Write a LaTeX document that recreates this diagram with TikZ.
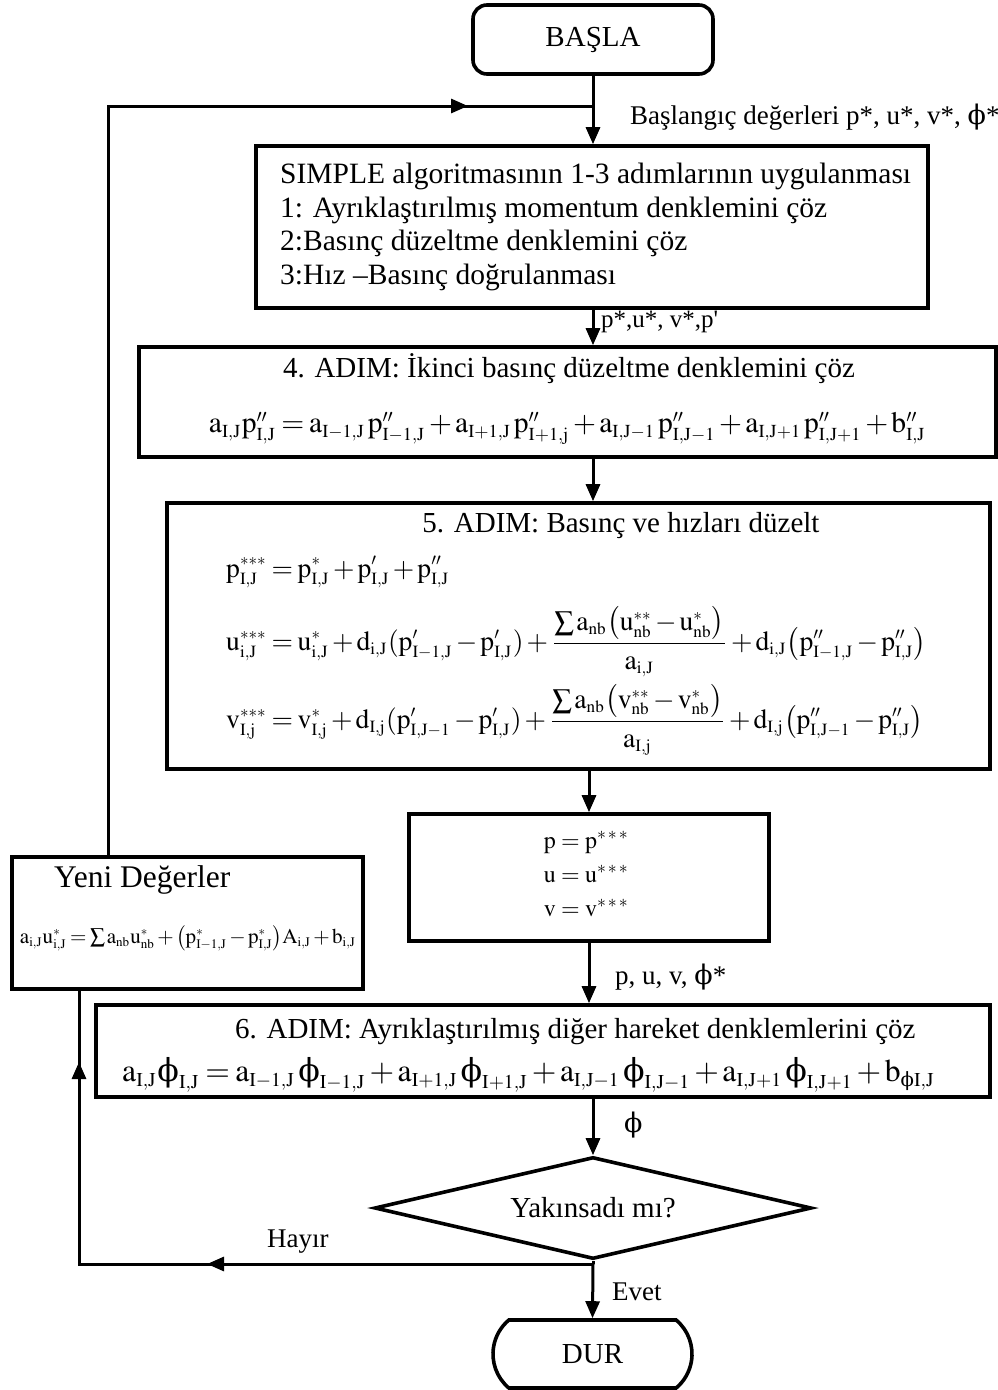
\documentclass[tikz,border=0pt]{standalone}
\usepackage{graphicx}
\usepackage{amsmath}
\usepackage{mathptmx}
\usepackage{fontspec}
\setmainfont{Liberation Serif}
\newfontfamily\phifont{DejaVu Serif}
\usetikzlibrary{arrows.meta,shapes.geometric,shapes.misc}
\DeclareMathSizes{10}{10}{6.2}{5}
\newcommand\myphi{\text{\phifont ϕ}}
\newcommand\tightmath{\medmuskip=2mu\thickmuskip=3mu\thinmuskip=1.5mu}
\newsavebox\eqU
\newsavebox\eqV
\newsavebox\eqP
\begin{document}
\begin{tikzpicture}[x=1pt,y=-1pt,
  box/.style={draw, line width=3.6pt, inner sep=0pt},
  conn/.style={line width=3pt},
  arr/.style={line width=3pt, -{Triangle[length=17pt,width=14pt]}},
  tA/.style={font=\fontsize{29}{34}\selectfont, inner sep=0pt},
  tB/.style={font=\fontsize{27}{32}\selectfont, inner sep=0pt},
  eqn/.style={inner sep=0pt}
]
\sbox\eqU{$\displaystyle\tightmath\mathrm{u^{***}_{i,J} = u^{*}_{i,J} + d_{i,J}(p'_{I-1,J} - p'_{I,J}) + \frac{\sum a_{nb}\bigl(u^{**}_{nb} - u^{*}_{nb}\bigr)}{a_{i,J}} + d_{i,J}\bigl(p''_{I-1,J} - p''_{I,J}\bigr)}$}
\sbox\eqV{$\displaystyle\tightmath\mathrm{v^{***}_{I,j} = v^{*}_{I,j} + d_{I,j}(p'_{I,J-1} - p'_{I,J}) + \frac{\sum a_{nb}\bigl(v^{**}_{nb} - v^{*}_{nb}\bigr)}{a_{I,j}} + d_{I,j}\bigl(p''_{I,J-1} - p''_{I,J}\bigr)}$}
\sbox\eqP{$\displaystyle\tightmath\mathrm{p^{***}_{I,J} = p^{*}_{I,J} + p'_{I,J} + p''_{I,J}}$}
\pgfmathsetmacro\sfU{700/\the\wd\eqU}

\fill[white] (0,0) rectangle (998,1390);
\useasboundingbox (0,0) rectangle (998,1390);

% start
\node[box, rounded corners=14pt, minimum width=240pt, minimum height=69pt, tA] (basla) at (593,39.5) {BAŞLA};

% SIMPLE box
\node[box, minimum width=672pt, minimum height=162pt] (simple) at (592,227) {};
\node[anchor=west, align=left, inner sep=0pt, font=\fontsize{29.5}{33.5}\selectfont] (simpletxt) at (280,227)
  {SIMPLE algoritmasının 1-3 adımlarının uygulanması\\1: Ayrıklaştırılmış momentum denklemini çöz\\2:Basınç düzeltme denklemini çöz\\3:Hız –Basınç doğrulanması};

% step 4
\node[box, minimum width=857pt, minimum height=110pt] (adim4) at (567.5,402) {};
\node[tA] (adim4t) at (569,369) {4. ADIM: İkinci basınç düzeltme denklemini çöz};
\node[eqn] (adim4e) at (567.5,428) {\resizebox{717pt}{!}{$\tightmath\mathrm{a_{I,J}p''_{I,J} = a_{I-1,J}\,p''_{I-1,J} + a_{I+1,J}\,p''_{I+1,j} + a_{I,J-1}\,p''_{I,J-1} + a_{I,J+1}\,p''_{I,J+1} + b''_{I,J}}$}};

% step 5
\node[box, minimum width=823pt, minimum height=266pt] (adim5) at (578.5,636) {};
\node[tA] (adim5t) at (621,526) {5. ADIM: Basınç ve hızları düzelt};
\node[eqn, anchor=west] (eqp) at (226,572) {\scalebox{\sfU}{\usebox\eqP}};
\node[eqn, anchor=west] (equ) at (226,642) {\scalebox{\sfU}{\usebox\eqU}};
\node[eqn, anchor=west] (eqv) at (226,720) {\scalebox{\sfU}{\usebox\eqV}};

% p box
\node[box, minimum width=360pt, minimum height=127pt] (pbox) at (589,877.5) {};
\node[align=left, inner sep=0pt, font=\fontsize{24}{34}\selectfont] (pvals) at (586,874)
  {$\mathrm{p = p}^{*\,*\,*}$\\$\mathrm{u = u}^{*\,*\,*}$\\$\mathrm{v = v}^{*\,*\,*}$};

% new values
\node[box, minimum width=351pt, minimum height=132pt] (yeni) at (187.5,923) {};
\node[anchor=west, inner sep=0pt, font=\fontsize{31.5}{36}\selectfont] (yenit) at (54,880) {Yeni Değerler};
\node[eqn] (yenie) at (188,938) {\resizebox{336pt}{!}{$\tightmath\mathrm{a_{i,J}u^{*}_{i,J} = \sum a_{nb}u^{*}_{nb} + \bigl(p^{*}_{I-1,J} - p^{*}_{I,J}\bigr)A_{i,J} + b_{i,J}}$}};

% step 6
\node[box, minimum width=894pt, minimum height=92pt] (adim6) at (543,1051) {};
\node[tA, anchor=west] (adim6t) at (235,1032) {6. ADIM: Ayrıklaştırılmış diğer hareket denklemlerini çöz};
\node[eqn, anchor=west] (adim6e) at (122,1075) {\resizebox{813pt}{!}{$\tightmath\mathrm{a_{I,J}}\myphi_{\mathrm{I,J}} = \mathrm{a_{I-1,J}}\,\myphi_{\mathrm{I-1,J}} + \mathrm{a_{I+1,J}}\,\myphi_{\mathrm{I+1,J}} + \mathrm{a_{I,J-1}}\,\myphi_{\mathrm{I,J-1}} + \mathrm{a_{I,J+1}}\,\myphi_{\mathrm{I,J+1}} + \mathrm{b}_{\myphi\mathrm{I,J}}$}};

% decision
\node[draw, diamond, line width=3.6pt, minimum width=437pt, minimum height=102pt, aspect=4.28, tA] (karar) at (593,1208) {Yakınsadı mı?};

% stop
\node[draw, rounded rectangle, rounded rectangle arc length=100, line width=3.6pt, minimum width=199pt, minimum height=68pt, tA] (dur) at (592.5,1354) {DUR};

% labels
\node[tB, anchor=west] (lab0) at (630,117) {Başlangıç değerleri p*, u*, v*, {\phifont ϕ}*};
\node[anchor=west, inner sep=0pt, font=\fontsize{25}{30}\selectfont] (lab1) at (601,322) {p*,u*, v*,p\textquotesingle};
\node[tB, anchor=west] (lab2) at (615,977) {p, u, v, {\phifont ϕ}*};
\node[tB, anchor=west] (lab3) at (624,1125) {{\phifont ϕ}};
\node[tB, anchor=west] (hayir) at (267,1242) {Hayır};
\node[tB, anchor=west] (evet) at (612,1292) {Evet};

% coordinates
\coordinate (j1) at (593,106);
\coordinate (lt) at (108,106);
\coordinate (m1) at (468,106);
\coordinate (j2) at (593,1264);
\coordinate (lb) at (79,1264);
\coordinate (m2) at (207,1264);
\coordinate (m3) at (79,1062);

% connectors
\draw[arr] (basla.south) -- (simple.north -| basla.south);
\draw[conn] (yeni.north -| lt) -- (lt) -- (j1);
\draw[arr] (lt) -- (m1);
\draw[arr] (simple.south -| j1) -- (adim4.north -| j1);
\draw[arr] (adim4.south -| j1) -- (adim5.north -| j1);
\draw[arr] (adim5.south -| pbox.north) -- (pbox.north);
\draw[arr] (pbox.south) -- (adim6.north -| pbox.south);
\draw[arr] (adim6.south -| karar.north) -- (karar.north);
\draw[conn] (karar.south) -- (j2);
\draw[arr] (j2) -- (dur.north);
\draw[conn] (j2) -- (lb) -- (yeni.south -| lb);
\draw[arr] (j2) -- (m2);
\draw[arr] (lb) -- (m3);
\end{tikzpicture}
\end{document}
